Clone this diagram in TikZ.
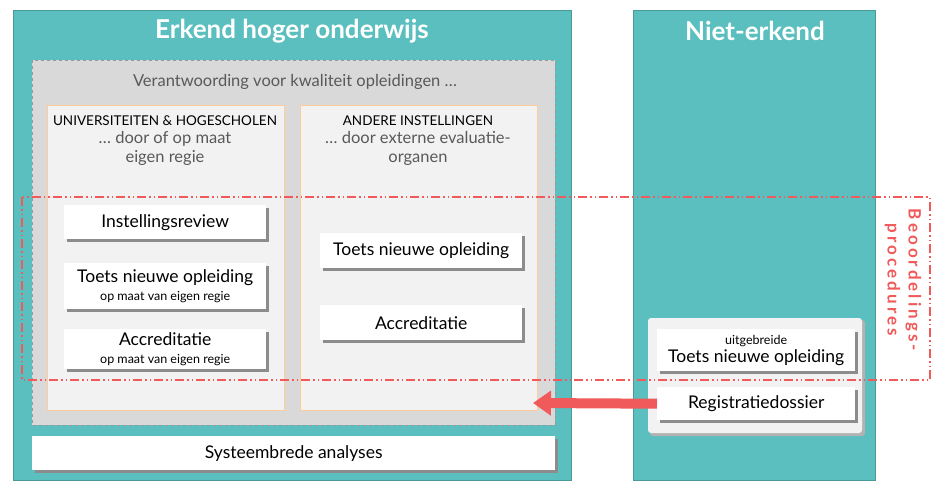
\documentclass[tikz,border=0pt]{standalone}
\usepackage{fontspec}
\setmainfont{Lato}
\usetikzlibrary{arrows.meta}
\definecolor{teal1}{HTML}{5BBFBF}
\definecolor{tealb}{HTML}{4A9A9A}
\definecolor{redc}{HTML}{F05A5A}
\definecolor{txtg}{HTML}{595959}
\tikzset{
 px/.style={x=1pt,y=-1pt},
 panel/.style={fill=teal1,draw=tealb,line width=0.6pt},
 wbox/.style={fill=white,draw=none},
 inner/.style={fill=black!5,draw=orange!40,line width=0.5pt},
}
\newcommand{\wb}[5]{% x1 y1 x2 y2 name
 \fill[black!45] (#1+3,#2+3) rectangle (#3+3,#4+3);
 \node[wbox,minimum width=#3-#1,minimum height=#4-#2,anchor=north west,inner sep=0pt] (#5) at (#1,#2) {};}
\begin{document}
\begin{tikzpicture}[px]
\useasboundingbox (0,0) rectangle (940,490);
\fill[white] (0,0) rectangle (940,490);
\draw[panel] (13,10) rectangle (571,480);
\draw[panel] (633,10) rectangle (875,480);
\node[white,font=\bfseries\fontsize{26}{30}\selectfont] (t1) at (292,31) {Erkend hoger onderwijs};
\node[white,font=\bfseries\fontsize{26}{30}\selectfont] (t2) at (755,31) {Niet-erkend};
\draw[fill=black!15,draw=black!40,dashed,line width=0.4pt] (32,60) rectangle (555,425);
\node[txtg,font=\fontsize{16.5}{19}\selectfont] (v) at (295,82) {Verantwoording voor kwaliteit opleidingen …};
\draw[inner] (47,105) rectangle (284,410);
\draw[inner] (300,105) rectangle (537,410);
\node[align=center,font=\fontsize{13.5}{16}\selectfont] (h1) at (165,121) {UNIVERSITEITEN \& HOGESCHOLEN};
\node[align=center,txtg,font=\fontsize{16.5}{19}\selectfont,anchor=north] (s1) at (165,128) {… door of op maat\\eigen regie};
\node[align=center,font=\fontsize{13.5}{16}\selectfont] (h2) at (418,121) {ANDERE INSTELLINGEN};
\node[align=center,txtg,font=\fontsize{16.5}{19}\selectfont,anchor=north] (s2) at (418,128) {… door externe evaluatie-\\organen};
\wb{64}{205}{266}{239}{b1}
\node[font=\fontsize{17.5}{20}\selectfont] at (b1) {Instellingsreview};
\wb{64}{263}{266}{309}{b2}
\node[align=center,font=\fontsize{17.5}{18}\selectfont] at (b2) {Toets nieuwe opleiding\\{\fontsize{12.5}{14}\selectfont op maat van eigen regie}};
\wb{64}{329}{266}{369}{b3}
\node[align=center,font=\fontsize{17.5}{18}\selectfont] at (b3) {Accreditatie\\{\fontsize{12.5}{14}\selectfont op maat van eigen regie}};
\wb{320}{233}{522}{268}{b4}
\node[font=\fontsize{17.5}{20}\selectfont] at (b4) {Toets nieuwe opleiding};
\wb{320}{305}{522}{340}{b5}
\node[font=\fontsize{17.5}{20}\selectfont] at (b5) {Accreditatie};
\fill[black!30,rounded corners=3pt] (650,320) rectangle (865,436);
\fill[black!5,rounded corners=3pt] (648,318) rectangle (862,433);
\wb{657}{329}{855}{371}{r1}
\node[align=center,font=\fontsize{17.5}{18}\selectfont] at (r1) {{\fontsize{12.5}{14}\selectfont uitgebreide}\\Toets nieuwe opleiding};
\wb{657}{387}{855}{420}{r2}
\node[font=\fontsize{17.5}{20}\selectfont] at (r2) {Registratiedossier};
\coordinate (ae) at (533,403);
\draw[redc,line width=10pt,-{Triangle[length=18pt,width=24pt]}] (r2.west) -- (ae);
\draw[redc,line width=1.3pt,dash pattern=on 9pt off 3pt on 1.5pt off 3pt on 1.5pt off 3pt] (22,197) rectangle (930,380);
\node[redc,rotate=-90,align=center,font=\bfseries\fontsize{17}{21}\selectfont,inner sep=1pt] (lab) at (903,280) {\addfontfeature{LetterSpace=18}Beoordelings-\\\addfontfeature{LetterSpace=18}procedures};
\wb{32}{436}{555}{470}{sa}
\node[font=\fontsize{17.5}{20}\selectfont] at (sa) {Systeembrede analyses};
\end{tikzpicture}
\end{document}
